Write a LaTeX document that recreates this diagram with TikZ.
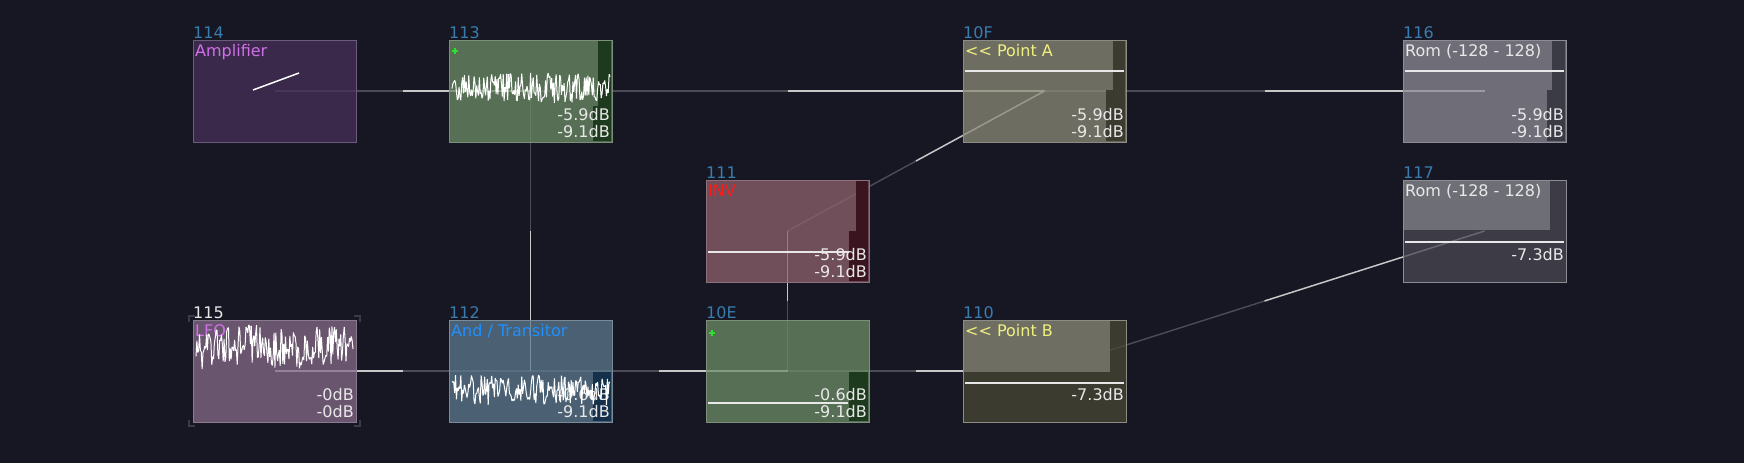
\documentclass[tikz,border=0pt]{standalone}
\usepackage{fontspec}
\setmainfont{DejaVu Sans}
\usetikzlibrary{positioning, calc, backgrounds}

\definecolor{bgnavy}{HTML}{161722}
\definecolor{linkgray}{HTML}{4C4C58}
\definecolor{linkwhite}{HTML}{C8C8C8}
\definecolor{numblue}{HTML}{3A7CAE}
\definecolor{dbwhite}{HTML}{E8E8E8}
\definecolor{ampfill}{HTML}{47305A}
\definecolor{ampedge}{HTML}{6C5C7C}
\definecolor{magtxt}{HTML}{D070E8}
\definecolor{greenfill}{HTML}{6D8E67}
\definecolor{greenedge}{HTML}{7B8F7A}
\definecolor{greenmeter}{HTML}{1E3A1E}
\definecolor{plusgreen}{HTML}{30E030}
\definecolor{olivefill}{HTML}{8B8B77}
\definecolor{oliveedge}{HTML}{8C8C82}
\definecolor{olivemeter}{HTML}{3B3B30}
\definecolor{olivedark}{HTML}{494835}
\definecolor{olivelight}{HTML}{6E6E62}
\definecolor{yellowtxt}{HTML}{F0F080}
\definecolor{romfill}{HTML}{8D8C95}
\definecolor{romedge}{HTML}{8C8C94}
\definecolor{rommeter}{HTML}{3B3B46}
\definecolor{romdark}{HTML}{494853}
\definecolor{romlight}{HTML}{6E6E77}
\definecolor{invfill}{HTML}{8F626D}
\definecolor{invedge}{HTML}{8F7078}
\definecolor{invmeter}{HTML}{3A1520}
\definecolor{redtxt}{HTML}{FF1A1A}
\definecolor{lfofill}{HTML}{876B8A}
\definecolor{lfoedge}{HTML}{8A7A90}
\definecolor{bracketgray}{HTML}{3A3A48}
\definecolor{andfill}{HTML}{5D7B8F}
\definecolor{andedge}{HTML}{7A8C9A}
\definecolor{andmeter}{HTML}{15304A}
\definecolor{bluetxt}{HTML}{1E90FF}

\begin{document}
\begin{tikzpicture}[x=1pt, y=-1pt,
  module/.style = {draw, rectangle, minimum width=163pt, minimum height=102pt,
                   inner sep=0pt, outer sep=0pt, line width=1pt, fill opacity=0.75},
  numlbl/.style = {anchor=base west, inner sep=0pt, text=numblue,
                   font=\fontsize{16}{16}\selectfont},
  modtitle/.style = {anchor=base west, inner sep=0pt,
                   font=\fontsize{16}{16}\selectfont},
  dblbl/.style = {anchor=base east, inner sep=0pt, text=dbwhite,
                   font=\fontsize{16}{16}\selectfont},
  linkdim/.style = {draw=linkgray, line width=1.4pt},
  linkhot/.style = {draw=linkwhite, line width=1.4pt},
  wave/.style = {draw=white, line width=1pt, line join=bevel},
  levelline/.style = {draw=dbwhite, line width=1.4pt},
  plusmark/.style = {draw=plusgreen, line width=1.3pt},
  bracket/.style = {draw=bracketgray, line width=1.5pt}
]
\useasboundingbox (0,0) rectangle (1744,463);
\pgfmathsetseed{11}

  % Modules, top row
  \node[module, fill=ampfill, draw=ampedge, anchor=north west] (amp) at (193,40) {};
  \node[module, fill=greenfill, draw=greenedge, right=93pt of amp] (waveA) {};
  \node[module, fill=olivefill, draw=oliveedge, right=351pt of waveA] (pointA) {};
  \node[module, fill=romfill, draw=romedge, right=277pt of pointA] (romA) {};

 % Modules, bottom row
  \node[module, fill=lfofill, draw=lfoedge, below=178pt of amp] (lfo) {};
  \node[module, fill=andfill, draw=andedge, right=93pt of lfo] (andTr) {};
  \node[module, fill=greenfill, draw=greenedge, right=94pt of andTr] (mixB) {};
  \node[module, fill=olivedark, draw=oliveedge, right=94pt of mixB] (pointB) {};

% Middle row
  \node[module, fill=invfill, draw=invedge, above=38pt of mixB] (inv) {};
  \node[module, fill=romdark, draw=romedge, below=38pt of romA] (romB) {};

% Module numbers
  \node[numlbl] (ampNum) at ([yshift=2pt]amp.north west) {114};
  \node[numlbl] (waveANum) at ([yshift=2pt]waveA.north west) {113};
  \node[numlbl] (pointANum) at ([yshift=2pt]pointA.north west) {10F};
  \node[numlbl] (romANum) at ([yshift=2pt]romA.north west) {116};
  \node[numlbl] (invNum) at ([yshift=2pt]inv.north west) {111};
  \node[numlbl] (romBNum) at ([yshift=2pt]romB.north west) {117};
  \node[numlbl, text=dbwhite] (lfoNum) at ([yshift=2pt]lfo.north west) {115};
  \node[numlbl] (andTrNum) at ([yshift=2pt]andTr.north west) {112};
  \node[numlbl] (mixBNum) at ([yshift=2pt]mixB.north west) {10E};
  \node[numlbl] (pointBNum) at ([yshift=2pt]pointB.north west) {110};

% Meters and level regions
  \fill[greenmeter] (598,41) rectangle (611,106) (593,106) rectangle (611,141);
  \fill[olivemeter] (1113,41) rectangle (1125,90) (1106,90) rectangle (1125,141);
  \fill[rommeter] (1552,41) rectangle (1565,90) (1547,90) rectangle (1565,141);
  \fill[invmeter] (856,181) rectangle (868,231) (849,231) rectangle (868,281);
  \fill[romlight] (1404,181) rectangle (1550,230);
  \fill[andmeter] (593,372) rectangle (611,421);
  \fill[greenmeter] (849,372) rectangle (868,421);
  \fill[olivelight] (964,321) rectangle (1110,372);

  \draw[levelline] (965,71) -- (1124,71);
  \draw[levelline] (1405,71) -- (1564,71);
  \draw[levelline] (708,252) -- (849,252);
  \draw[levelline] (1405,242) -- (1564,242);
  \draw[levelline] (708,403) -- (848,403);
  \draw[levelline] (965,383) -- (1124,383);

  \draw[draw=white, line width=1.5pt] (253,90) -- (299,73);
  \draw[plusmark] (452,51) -- (458,51) (455,48) -- (455,54);
  \draw[plusmark] (709,333) -- (715,333) (712,330) -- (712,336);

% Titles
  \node[modtitle, text=magtxt] (ampTitle) at ([xshift=2pt, yshift=-16pt]amp.north west) {Amplifier};
  \node[modtitle, text=yellowtxt] (pointATitle) at ([xshift=2pt, yshift=-16pt]pointA.north west) {{<}{<} Point A};
  \node[modtitle, text=dbwhite] (romATitle) at ([xshift=2pt, yshift=-16pt]romA.north west) {Rom (-128 - 128)};
  \node[modtitle, text=redtxt] (invTitle) at ([xshift=2pt, yshift=-16pt]inv.north west) {INV};
  \node[modtitle, text=dbwhite] (romBTitle) at ([xshift=2pt, yshift=-16pt]romB.north west) {Rom (-128 - 128)};
  \node[modtitle, text=magtxt] (lfoTitle) at ([xshift=2pt, yshift=-16pt]lfo.north west) {LFO};
  \node[modtitle, text=bluetxt] (andTrTitle) at ([xshift=2pt, yshift=-16pt]andTr.north west) {And / Transitor};
  \node[modtitle, text=yellowtxt] (pointBTitle) at ([xshift=2pt, yshift=-16pt]pointB.north west) {{<}{<} Point B};

% Levels in dB
  \node[dblbl] (waveAdbL) at ([xshift=-2pt, yshift=22pt]waveA.south east) {-5.9dB};
  \node[dblbl] (waveAdbR) at ([xshift=-2pt, yshift=5pt]waveA.south east) {-9.1dB};
  \node[dblbl] (pointAdbL) at ([xshift=-2pt, yshift=22pt]pointA.south east) {-5.9dB};
  \node[dblbl] (pointAdbR) at ([xshift=-2pt, yshift=5pt]pointA.south east) {-9.1dB};
  \node[dblbl] (romAdbL) at ([xshift=-2pt, yshift=22pt]romA.south east) {-5.9dB};
  \node[dblbl] (romAdbR) at ([xshift=-2pt, yshift=5pt]romA.south east) {-9.1dB};
  \node[dblbl] (invdbL) at ([xshift=-2pt, yshift=22pt]inv.south east) {-5.9dB};
  \node[dblbl] (invdbR) at ([xshift=-2pt, yshift=5pt]inv.south east) {-9.1dB};
  \node[dblbl] (romBdb) at ([xshift=-2pt, yshift=22pt]romB.south east) {-7.3dB};
  \node[dblbl] (lfodbL) at ([xshift=-2pt, yshift=22pt]lfo.south east) {-0dB};
  \node[dblbl] (lfodbR) at ([xshift=-2pt, yshift=5pt]lfo.south east) {-0dB};
  \node[dblbl] (andTrdbL) at ([xshift=-2pt, yshift=22pt]andTr.south east) {-0.6dB};
  \node[dblbl] (andTrdbR) at ([xshift=-2pt, yshift=5pt]andTr.south east) {-9.1dB};
  \node[dblbl] (mixBdbL) at ([xshift=-2pt, yshift=22pt]mixB.south east) {-0.6dB};
  \node[dblbl] (mixBdbR) at ([xshift=-2pt, yshift=5pt]mixB.south east) {-9.1dB};
  \node[dblbl] (pointBdb) at ([xshift=-2pt, yshift=22pt]pointB.south east) {-7.3dB};

% Scopes
  \draw[wave] plot[domain=452:610, samples=180] (\x, {88+15*rand});
  \draw[wave] plot[domain=196:353, samples=180] (\x, {347+3*sin(4*\x)+20*rand});
  \draw[wave] plot[domain=452:610, samples=180] (\x, {390+15*rand});

  % Selection brackets
  \draw[bracket] (189,322) -- (189,316) -- (195,316);
  \draw[bracket] (354,316) -- (360,316) -- (360,322);
  \draw[bracket] (189,420) -- (189,426) -- (195,426);
  \draw[bracket] (354,426) -- (360,426) -- (360,420);

% Links
\begin{scope}[on background layer]
  \fill[bgnavy] (0,0) rectangle (1744,463);
  \draw[linkdim] (amp.center) -- (waveA.center);
  \draw[linkdim] (waveA.center) -- (pointA.center);
  \draw[linkdim] (pointA.center) -- (romA.center);
  \draw[linkdim] (waveA.center) -- (andTr.center);
  \draw[linkdim] (andTr.center) -- (lfo.center);
  \draw[linkdim] (andTr.center) -- (mixB.center);
  \draw[linkdim] (mixB.center) -- (inv.center);
  \draw[linkdim] (mixB.center) -- (pointB.center);
  \draw[linkdim] (inv.center) -- (pointA.center);
  \draw[linkdim] (pointB.center) -- (romB.center);
  \draw[linkhot] ($(amp.center)!0.5!(waveA.center)$) -- (waveA.center);
  \draw[linkhot] ($(waveA.center)!0.5!(pointA.center)$) -- (pointA.center);
  \draw[linkhot] ($(pointA.center)!0.5!(romA.center)$) -- (romA.center);
  \draw[linkhot] ($(waveA.center)!0.5!(andTr.center)$) -- (andTr.center);
  \draw[linkhot] ($(andTr.center)!0.5!(lfo.center)$) -- (lfo.center);
  \draw[linkhot] ($(andTr.center)!0.5!(mixB.center)$) -- (mixB.center);
  \draw[linkhot] ($(mixB.center)!0.5!(inv.center)$) -- (inv.center);
  \draw[linkhot] ($(mixB.center)!0.5!(pointB.center)$) -- (pointB.center);
  \draw[linkhot] ($(inv.center)!0.5!(pointA.center)$) -- (pointA.center);
  \draw[linkhot] ($(pointB.center)!0.5!(romB.center)$) -- (romB.center);
\end{scope}

\end{tikzpicture}
\end{document}
